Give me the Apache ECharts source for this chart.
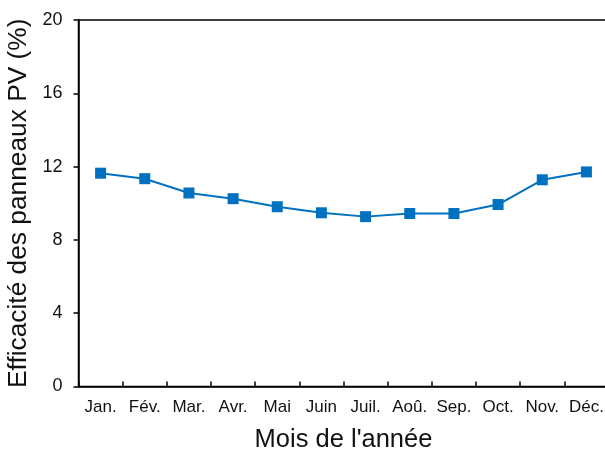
<!DOCTYPE html>
<html>
<head>
<meta charset="utf-8">
<script src="https://cdn.jsdelivr.net/npm/echarts@6/dist/echarts.min.js"></script>
<style>
html,body{margin:0;padding:0;background:#fff;}
#chart{width:605px;height:449px;}
</style>
</head>
<body>
<div id="chart"></div>
<script>
const months = ['Jan.', 'Fév.', 'Mar.', 'Avr.', 'Mai', 'Juin', 'Juil.', 'Aoû.', 'Sep.', 'Oct.', 'Nov.', 'Déc.'];
const efficiency = [11.64, 11.34, 10.56, 10.25, 9.81, 9.48, 9.27, 9.44, 9.44, 9.93, 11.28, 11.71];
const yTicks = [0, 4, 8, 12, 16, 20];
const xTitle = "Mois de l'année";
const yTitle = 'Efficacité des panneaux PV (%)';

const chart = echarts.init(document.getElementById('chart'), null, {renderer: 'canvas'});
const font = '"Liberation Sans", Arial, sans-serif';
chart.setOption({
  animation: false,
  backgroundColor: '#ffffff',
  grid: {
    left: 78.5, top: 20, width: 530, height: 366.5,
    containLabel: false, outerBoundsMode: 'none',
    show: true, borderColor: '#000', borderWidth: 1.5, backgroundColor: 'transparent'
  },
  xAxis: {
    type: 'category',
    data: months,
    boundaryGap: true,
    name: xTitle,
    nameLocation: 'middle',
    nameGap: 40,
    nameTextStyle: {fontFamily: font, fontSize: 25.5, color: '#111'},
    axisLine: {lineStyle: {color: '#000', width: 1.5}},
    axisTick: {show: true, inside: true, length: 5, lineStyle: {color: '#000', width: 1.5}},
    axisLabel: {fontFamily: font, fontSize: 17, color: '#111', margin: 12, interval: 0},
    splitLine: {show: false}
  },
  yAxis: {
    type: 'value',
    min: yTicks[0],
    max: yTicks[yTicks.length - 1],
    interval: yTicks[1] - yTicks[0],
    name: yTitle,
    nameLocation: 'middle',
    nameGap: 36,
    nameRotate: 90,
    nameTextStyle: {fontFamily: font, fontSize: 26.3, color: '#111'},
    axisLine: {show: true, lineStyle: {color: '#000', width: 1.5}},
    axisTick: {show: true, inside: false, length: 5, lineStyle: {color: '#000', width: 1.5}},
    axisLabel: {fontFamily: font, fontSize: 18, color: '#111', margin: 16},
    splitLine: {show: false}
  },
  series: [{
    type: 'line',
    data: efficiency,
    symbol: 'rect',
    symbolSize: 11,
    showAllSymbol: true,
    lineStyle: {color: '#0070C0', width: 2},
    itemStyle: {color: '#0070C0', borderWidth: 0}
  }]
});
</script>
</body>
</html>
